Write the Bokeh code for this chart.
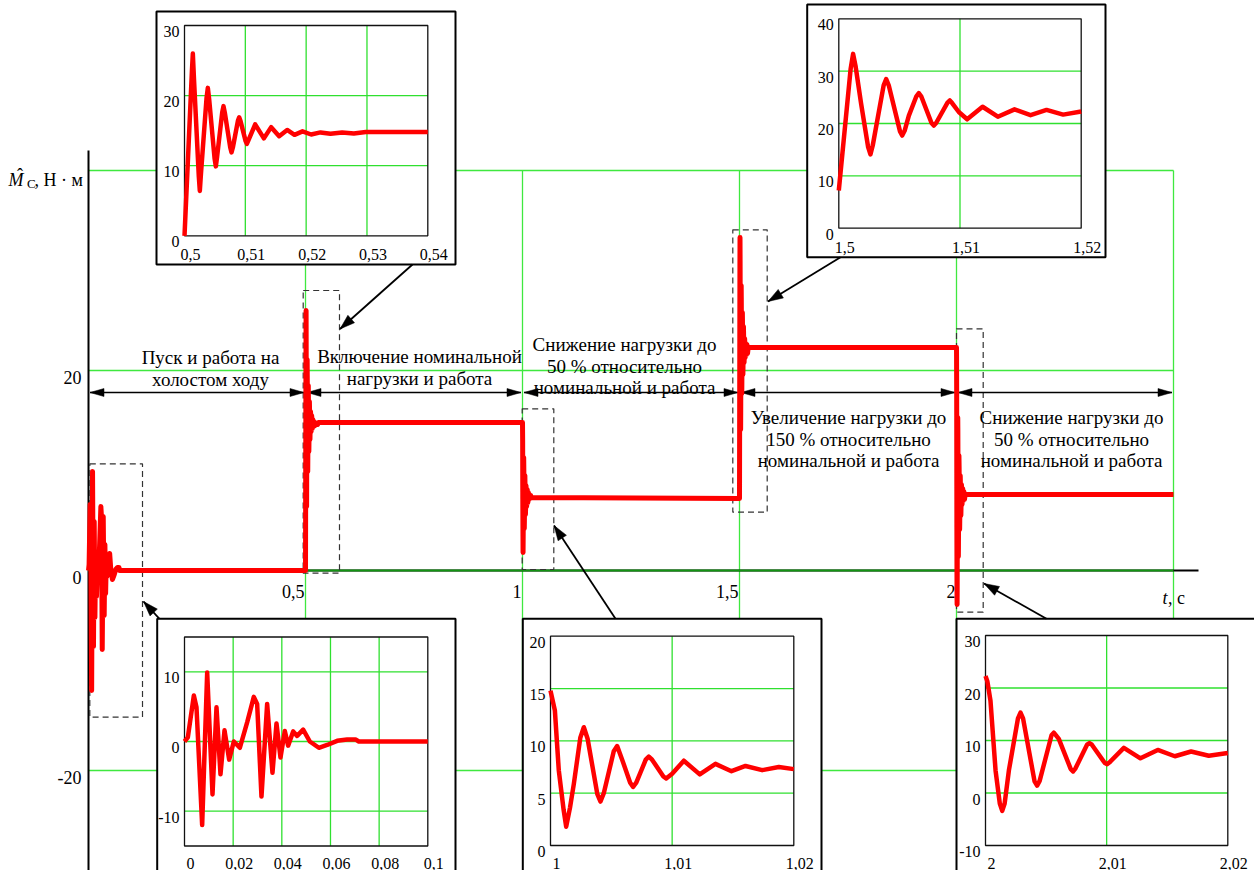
import numpy as np
from bokeh.plotting import figure
from bokeh.models import Range1d
from bokeh.core.properties import value
from bokeh.embed import file_html
from bokeh.resources import INLINE

# ---------------- DATA ----------------
main_x_ticks = [0.5, 1.0, 1.5, 2.0]
main_x_labels = ["0,5", "1", "1,5", "2"]
main_y_ticks = [20, 0, -20]
main_y_labels = ["20", "0", "-20"]
main_grid_t = [0.5, 1.0, 1.5, 2.0, 2.5]
main_grid_m = [-20, 20, 40]
stage_bounds = [0.0, 0.5, 1.0, 1.5, 2.0, 2.5]
stage_texts = [
    ["Пуск и работа на", "холостом ходу"],
    ["Включение номинальной", "нагрузки и работа"],
    ["Снижение нагрузки до", "50 % относительно", "номинальной и работа"],
    ["Увеличение нагрузки до", "150 % относительно", "номинальной и работа"],
    ["Снижение нагрузки до", "50 % относительно", "номинальной и работа"],
]

# start-up transient (0 .. 0.1 s)
start_t = [0, 0.00137, 0.00384, 0.00493, 0.00726, 0.00932, 0.01151, 0.01315, 0.01479,
           0.01644, 0.01836, 0.02027, 0.02274, 0.02575, 0.02849, 0.02986, 0.03164,
           0.03397, 0.03616, 0.03781, 0.03945, 0.04123, 0.0426, 0.04466, 0.0463,
           0.04877, 0.05151, 0.05521, 0.05863, 0.06274, 0.06685, 0.07027, 0.07164, 0.1]
start_m = [0, 0.6, 6.6, 4.9, -12.0, 9.9, -7.6, 4.9, -4.7, 1.6, -2.6, 0.0, -0.9, 2.75,
           6.4, 5.4, -7.9, 5.4, -4.5, 2.6, -2.3, 1.5, -0.6, 1.45, 0.8, 1.7, 0.0, -0.9,
           -0.5, 0.1, 0.3, 0.3, 0.0, 0.0]
# nominal load on (0.5 .. 0.54 s)
load_t = [0.5, 0.50122, 0.50137, 0.50155, 0.50235, 0.50252, 0.5027, 0.50362, 0.50384,
          0.50405, 0.50495, 0.50515, 0.50535, 0.5062, 0.50641, 0.50662, 0.50752, 0.50773,
          0.50795, 0.50878, 0.50899, 0.5092, 0.51005, 0.51025, 0.51045, 0.51162, 0.51305,
          0.51425, 0.51556, 0.51688, 0.51808, 0.5194, 0.52082, 0.52236, 0.524, 0.52592,
          0.52784, 0.5298, 0.54]
load_m = [0, 23.5, 26.0, 22.5, 8.5, 6.4, 8.8, 19.6, 21.1, 19.5, 11.0, 9.9, 11.2, 17.6,
          18.5, 17.6, 12.6, 11.9, 12.6, 16.4, 16.9, 16.4, 13.5, 13.1, 13.5, 15.9, 13.9,
          15.5, 14.2, 15.1, 14.4, 14.9, 14.45, 14.75, 14.55, 14.75, 14.6, 14.8, 14.8]
# drop to 50 % (1.0 .. 1.02 s)
drop1_t = [1.0, 1.00036, 1.00068, 1.00108, 1.00129, 1.0016, 1.00192, 1.00245, 1.00274,
           1.00305, 1.00385, 1.00411, 1.00438, 1.0052, 1.00548, 1.00595, 1.00655, 1.00679,
           1.00705, 1.00783, 1.00808, 1.00835, 1.00928, 1.00951, 1.01, 1.01096, 1.01227,
           1.01356, 1.01488, 1.01603, 1.0174, 1.01877, 1.02]
drop1_m = [14.8, 12.9, 7.2, 3.4, 1.8, 3.6, 5.9, 10.3, 11.3, 10.2, 4.9, 4.2, 5.0, 9.0, 9.5,
           8.0, 6.0, 5.6, 6.0, 8.2, 8.5, 8.2, 6.6, 6.4, 6.85, 8.1, 6.8, 7.8, 7.1, 7.6, 7.2,
           7.5, 7.3]
# rise to 150 % (1.5 .. 1.52 s)
rise_t = [1.5, 1.50098, 1.50118, 1.50138, 1.50184, 1.50242, 1.50261, 1.5028, 1.5037,
          1.50391, 1.50412, 1.50505, 1.50523, 1.50543, 1.50578, 1.5064, 1.5066, 1.5068,
          1.50765, 1.50784, 1.50803, 1.50897, 1.50916, 1.50935, 1.5099, 1.51059, 1.51186,
          1.51312, 1.5145, 1.51582, 1.51714, 1.51851, 1.52]
rise_m = [7.2, 30.5, 33.3, 31.0, 23.8, 15.5, 14.1, 15.8, 27.3, 28.5, 27.3, 18.5, 17.7,
          18.6, 21.5, 25.2, 25.8, 25.2, 20.1, 19.6, 20.1, 24.0, 24.4, 23.9, 22.2, 20.8,
          23.2, 21.3, 22.7, 21.6, 22.6, 21.7, 22.3]
# drop to 50 % (2.0 .. 2.02 s)
drop2_t = [2.0, 2.00015, 2.00041, 2.00083, 2.00118, 2.00138, 2.00158, 2.00193, 2.00268,
           2.00289, 2.0031, 2.00405, 2.00426, 2.00447, 2.00545, 2.00564, 2.00605, 2.00703,
           2.00723, 2.00743, 2.00838, 2.00858, 2.00878, 2.00985, 2.01004, 2.01022, 2.01142,
           2.01279, 2.01422, 2.01563, 2.01697, 2.01843, 2.02]
drop2_m = [22.3, 21.3, 17.6, 4.3, -2.0, -3.4, -2.0, 4.3, 14.2, 15.3, 14.2, 2.2, 1.4, 2.3,
           11.0, 11.5, 10.3, 4.6, 4.1, 4.7, 9.2, 9.5, 9.2, 5.7, 5.5, 5.8, 8.6, 6.6, 8.2,
           7.0, 7.9, 7.1, 7.6]
end_t = [2.5]
end_m = [7.6]

# inset tick values / labels
A_xticks = [0.5, 0.51, 0.52, 0.53, 0.54]; A_xlabels = ["0,5", "0,51", "0,52", "0,53", "0,54"]
A_yticks = [0, 10, 20, 30]; A_ylabels = ["0", "10", "20", "30"]
B_xticks = [1.5, 1.51, 1.52]; B_xlabels = ["1,5", "1,51", "1,52"]
B_yticks = [0, 10, 20, 30, 40]; B_ylabels = ["0", "10", "20", "30", "40"]
C_xticks = [0, 0.02, 0.04, 0.06, 0.08, 0.1]; C_xlabels = ["0", "0,02", "0,04", "0,06", "0,08", "0,1"]
C_yticks = [-10, 0, 10]; C_ylabels = ["-10", "0", "10"]
D_xticks = [1.0, 1.01, 1.02]; D_xlabels = ["1", "1,01", "1,02"]
D_yticks = [0, 5, 10, 15, 20]; D_ylabels = ["0", "5", "10", "15", "20"]
E_xticks = [2.0, 2.01, 2.02]; E_xlabels = ["2", "2,01", "2,02"]
E_yticks = [-10, 0, 10, 20, 30]; E_ylabels = ["-10", "0", "10", "20", "30"]

# ---------------- LAYOUT ----------------
W, H, PAD = 1254, 870, 0
FONT = value("Liberation Serif")
RED = "#ff0000"
GRID = "#3fe83f"
IGRID = "#2fe02f"


def make_ranges(xlim, ylim, box):
    # box = (left, top, right, bottom) in page pixels
    l, t, r, b = box
    sx = (r - l) / (xlim[1] - xlim[0])
    xs = xlim[0] - (l - PAD) / sx
    sy = (b - t) / (ylim[1] - ylim[0])
    ye = ylim[1] + (t - PAD) / sy
    return Range1d(start=xs, end=xs + W / sx), Range1d(start=ye - H / sy, end=ye), sx, sy


MAIN_BOX = (88, 170, 1173, 770)
MAIN_XLIM, MAIN_YLIM = (0.0, 2.5), (-20.0, 40.0)
mxr, myr, msx, msy = make_ranges(MAIN_XLIM, MAIN_YLIM, MAIN_BOX)


def mx(t):
    return MAIN_BOX[0] + (t - MAIN_XLIM[0]) * msx


p = figure(width=W, height=H, x_range=mxr, y_range=myr, output_backend="svg",
           toolbar_location=None, min_border=0, x_axis_type=None, y_axis_type=None,
           outline_line_color=None, background_fill_color="white",
           border_fill_color="white")
p.extra_x_ranges = {"px": Range1d(start=PAD, end=PAD + W)}
p.extra_y_ranges = {"py": Range1d(start=PAD + H, end=PAD)}


def txt(xs, ys, ss, size, align="left", style="normal", xr="px", yr="py"):
    p.text(x=list(xs), y=list(ys), text=list(ss), text_font=FONT,
           text_font_size=value(size), text_align=align, text_baseline="alphabetic",
           text_font_style=style, text_color="black", x_range_name=xr, y_range_name=yr)


def head(tip, tail, L, hw):
    ux, uy = tip[0] - tail[0], tip[1] - tail[1]
    n = (ux ** 2 + uy ** 2) ** 0.5
    ux, uy = ux / n, uy / n
    bx, by = tip[0] - L * ux, tip[1] - L * uy
    return [tip[0], bx - hw * uy, bx + hw * uy], [tip[1], by + hw * ux, by - hw * ux]


# ---- main grid and axes ----
p.segment(x0=main_grid_t, y0=[MAIN_YLIM[0]] * len(main_grid_t), x1=main_grid_t,
          y1=[MAIN_YLIM[1]] * len(main_grid_t), line_color=GRID, line_width=1.3)
p.segment(x0=[0] * len(main_grid_m), y0=main_grid_m, x1=[2.5] * len(main_grid_m),
          y1=main_grid_m, line_color=GRID, line_width=1.3)
p.segment(x0=[88, 88], y0=[150, 570], x1=[88, 1198], y1=[880, 570], line_color="black",
          line_width=2, x_range_name="px", y_range_name="py")
p.segment(x0=[0], y0=[0], x1=[2.5], y1=[0], line_color="#139313", line_width=2)

txt([t - 1 / msx for t in main_x_ticks], [-21 / msy] * 4, main_x_labels, "18px",
    align="right", xr="default", yr="default")
txt([-7 / msx] * 3, [m - 7 / msy for m in main_y_ticks], main_y_labels, "18px",
    align="right", xr="default", yr="default")
txt([8], [179], ["M"], "18px", style="italic")
txt([19.5], [174], ["ˆ"], "18px", align="center")
txt([26.5], [183], ["С"], "13px")
txt([34], [179], [", Н · м"], "18px")
txt([1162], [597], ["t"], "18px", style="italic")
txt([1167.5], [597], [", с"], "18px")

# dashed zoom boxes
boxes = [(89.3, 463.3, 142, 716.7), (302.7, 290, 339, 572.7), (521.7, 408.3, 553.3, 569),
         (732.3, 229.3, 766.7, 511.7), (956, 328.3, 982.7, 611.7)]
p.quad(left=[b[0] for b in boxes], top=[b[1] for b in boxes], right=[b[2] for b in boxes],
       bottom=[b[3] for b in boxes], fill_color=None, line_color="#333333", line_width=1.2,
       line_dash="6 4", x_range_name="px", y_range_name="py")

# stage labels
stage_pos = [(210, 357), (419, 356), (624, 344), (848, 417), (1071, 417)]
for (cx, by0), lines in zip(stage_pos, stage_texts):
    txt([cx] * len(lines), [by0 + 21.5 * i for i in range(len(lines))], lines, "19px",
        align="center")

# stage double arrows
ARY = 392
hx, hy = [], []
for i in range(len(stage_bounds) - 1):
    a = mx(stage_bounds[i]) + 1.5
    b = mx(stage_bounds[i + 1]) - 1.5
    p.segment(x0=[a], y0=[ARY], x1=[b], y1=[ARY], line_color="black", line_width=1.3,
              x_range_name="px", y_range_name="py")
    for tip, tail in (((a, ARY), (b, ARY)), ((b, ARY), (a, ARY))):
        xx, yy = head(tip, tail, 14, 4)
        hx.append(xx); hy.append(yy)
p.patches(xs=hx, ys=hy, fill_color="black", line_color="black", line_width=0.5,
          x_range_name="px", y_range_name="py")

# main curve
main_t = start_t + load_t + drop1_t + rise_t + drop2_t + end_t
main_m = start_m + load_m + drop1_m + rise_m + drop2_m + end_m
p.line(main_t, main_m, line_color=RED, line_width=5, line_join="round")

# ---- insets ----
INSETS = [
    dict(k="A", t=load_t, m=load_m, xlim=(0.5, 0.54), ylim=(0, 30), xg=[0.51, 0.52, 0.53],
         yg=[10, 20], xt=A_xticks, xl=A_xlabels, yt=A_yticks, yl=A_ylabels,
         outer=(156, 11, 455, 264), inner=(184, 25, 427.3, 235.3), lab=19),
    dict(k="B", t=rise_t, m=rise_m, xlim=(1.5, 1.52), ylim=(0, 40), xg=[1.51],
         yg=[10, 20, 30], xt=B_xticks, xl=B_xlabels, yt=B_yticks, yl=B_ylabels,
         outer=(806.7, 4, 1105, 256.7), inner=(838.3, 18.3, 1080.7, 227.7), lab=19),
    dict(k="C", t=start_t, m=start_m, xlim=(0, 0.1), ylim=(-15, 15),
         xg=[0.02, 0.04, 0.06, 0.08], yg=[-10, 0, 10], xt=C_xticks, xl=C_xlabels,
         yt=C_yticks, yl=C_ylabels, outer=(156.7, 618.3, 455, 890),
         inner=(184, 636.5, 427.3, 845.5), lab=17),
    dict(k="D", t=drop1_t, m=drop1_m, xlim=(1.0, 1.02), ylim=(0, 20), xg=[1.01],
         yg=[5, 10, 15], xt=D_xticks, xl=D_xlabels, yt=D_yticks, yl=D_ylabels,
         outer=(522.3, 618.3, 821, 890), inner=(550, 635.7, 793.3, 845), lab=17.5),
    dict(k="E", t=drop2_t, m=drop2_m, xlim=(2.0, 2.02), ylim=(-10, 30), xg=[2.01],
         yg=[0, 10, 20], xt=E_xticks, xl=E_xlabels, yt=E_yticks, yl=E_ylabels,
         outer=(956, 618.3, 1262, 890), inner=(985, 635, 1227.3, 845), lab=17.5),
]

for ins in INSETS:
    o = ins["outer"]
    p.quad(left=[o[0]], top=[o[1]], right=[o[2]], bottom=[o[3]], fill_color="white",
           line_color="black", line_width=2, x_range_name="px", y_range_name="py")
    xr, yr, sx, sy = make_ranges(ins["xlim"], ins["ylim"], ins["inner"])
    kx, ky = "x" + ins["k"], "y" + ins["k"]
    p.extra_x_ranges[kx] = xr
    p.extra_y_ranges[ky] = yr
    x0, x1 = ins["xlim"]; y0, y1 = ins["ylim"]
    p.segment(x0=ins["xg"], y0=[y0] * len(ins["xg"]), x1=ins["xg"], y1=[y1] * len(ins["xg"]),
              line_color=IGRID, line_width=1.3, x_range_name=kx, y_range_name=ky)
    p.segment(x0=[x0] * len(ins["yg"]), y0=ins["yg"], x1=[x1] * len(ins["yg"]), y1=ins["yg"],
              line_color=IGRID, line_width=1.3, x_range_name=kx, y_range_name=ky)
    p.quad(left=[x0], right=[x1], top=[y1], bottom=[y0], fill_color=None,
           line_color="#111111", line_width=1.3, x_range_name=kx, y_range_name=ky)
    p.line(ins["t"], ins["m"], line_color=RED, line_width=4.5, line_join="round",
           x_range_name=kx, y_range_name=ky)
    txt([v + 6 / sx for v in ins["xt"]], [y0 - ins["lab"] / sy] * len(ins["xt"]), ins["xl"],
        "16px", align="center", xr=kx, yr=ky)
    txt([x0 - 5 / sx] * len(ins["yt"]), [v - 6 / sy for v in ins["yt"]], ins["yl"], "16px",
        align="right", xr=kx, yr=ky)

# connector arrows (tail at inset frame, tip at dashed box)
connectors = [((412, 264), (339.5, 328.5)), ((840, 256.7), (767.5, 301)),
              ((159, 618.3), (143, 601)), ((615, 618.3), (553.5, 525)),
              ((1046, 618.3), (983.5, 583))]
cx_, cy_ = [], []
for tail, tip in connectors:
    p.segment(x0=[tail[0]], y0=[tail[1]], x1=[tip[0]], y1=[tip[1]], line_color="black",
              line_width=1.8, x_range_name="px", y_range_name="py")
    xx, yy = head(tip, tail, 15, 5)
    cx_.append(xx); cy_.append(yy)
p.patches(xs=cx_, ys=cy_, fill_color="black", line_color="black", line_width=0.5,
          x_range_name="px", y_range_name="py")

open("out.html", "w").write(file_html(p, INLINE))
